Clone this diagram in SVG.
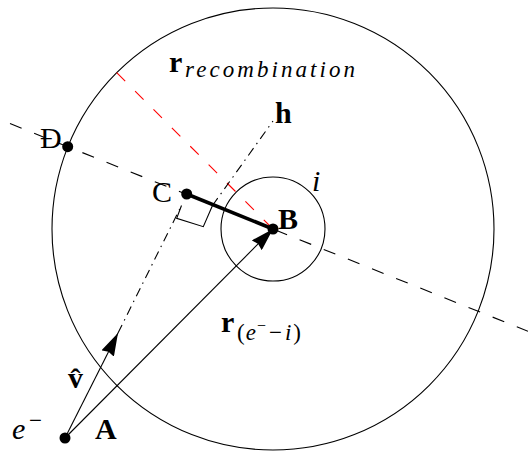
<svg xmlns="http://www.w3.org/2000/svg" width="528" height="453" viewBox="0 0 528 453">
<style>
.thin{fill:none;stroke:#000;stroke-width:1.1}
.dash{fill:none;stroke:#000;stroke-width:1.1;stroke-dasharray:12.5 13.5}
.red{fill:none;stroke:#f00;stroke-width:1.1;stroke-dasharray:12 14}
.dd{fill:none;stroke:#000;stroke-width:1.1;stroke-dasharray:9 5 1.5 5}
.thick{fill:none;stroke:#000;stroke-width:3.6}
.dot{fill:#000}
.lbl{font-family:"Liberation Serif",serif;font-size:30px;fill:#000}
.b{font-weight:bold}
.it{font-style:italic}
.sub{font-size:23px}
</style>
<defs>
<marker id="ah" viewBox="0 0 23 14" refX="23" refY="7" markerWidth="23" markerHeight="14" markerUnits="userSpaceOnUse" orient="auto">
<path d="M0,0 L23,7 L0,14 L2,7 z" fill="#000"/>
</marker>
</defs>
<g id="circles">
<circle id="recombination-circle" class="thin" cx="273" cy="229" r="221"/>
<circle id="ion-circle" class="thin" cx="273" cy="229" r="52"/>
</g>
<g id="connectors">
<line class="dash" x1="10" y1="123.6" x2="528" y2="331.3"/>
<line class="red" x1="116.7" y1="72.7" x2="273" y2="229"/>
<line class="dd" x1="118" y1="333" x2="181.5" y2="205.5"/>
<line class="dd" x1="212.5" y1="205.5" x2="273" y2="121"/>
<polyline class="thin" points="181.5,205.5 176.7,218.3 203.3,226.7 212.5,205.5"/>
<line class="thick" x1="186.7" y1="194" x2="273" y2="229"/>
<line class="thin" x1="65" y1="438" x2="273" y2="229" marker-end="url(#ah)"/>
<line class="thin" x1="65" y1="438" x2="118" y2="333" marker-end="url(#ah)"/>
</g>
<g id="node-A"><circle class="dot" cx="65" cy="438" r="5.5"/><text class="lbl b" x="95" y="439">A</text><text class="lbl it" x="12" y="439">e</text><text class="lbl sub" x="29" y="428">−</text></g>
<g id="node-B"><circle class="dot" cx="273" cy="229" r="5.5"/><text class="lbl b" x="278" y="229">B</text></g>
<g id="node-C"><circle class="dot" cx="186.7" cy="194" r="5.5"/><text class="lbl" x="152" y="202">C</text></g>
<g id="node-D"><circle class="dot" cx="67.7" cy="146.7" r="5.5"/><text class="lbl" x="40" y="148">Đ</text></g>
<g id="node-h"><text class="lbl b" x="275" y="123">h</text></g>
<g id="node-i"><text class="lbl it" x="312" y="191">i</text></g>
<g id="node-v"><text class="lbl b" x="68" y="388">v̂</text></g>
<g id="label-rrec"><text class="lbl b" x="169" y="72">r</text><text class="lbl it sub" x="185" y="77" textLength="170" lengthAdjust="spacing">recombination</text></g>
<g id="label-rei"><text class="lbl b" x="221" y="332">r</text><text class="lbl sub" x="237" y="340">(<tspan class="it" dx="1">e</tspan><tspan font-size="16" dy="-9" dx="1">−</tspan><tspan dy="9" dx="3">−</tspan><tspan class="it" dx="3">i</tspan><tspan dx="2">)</tspan></text></g>
</svg>
